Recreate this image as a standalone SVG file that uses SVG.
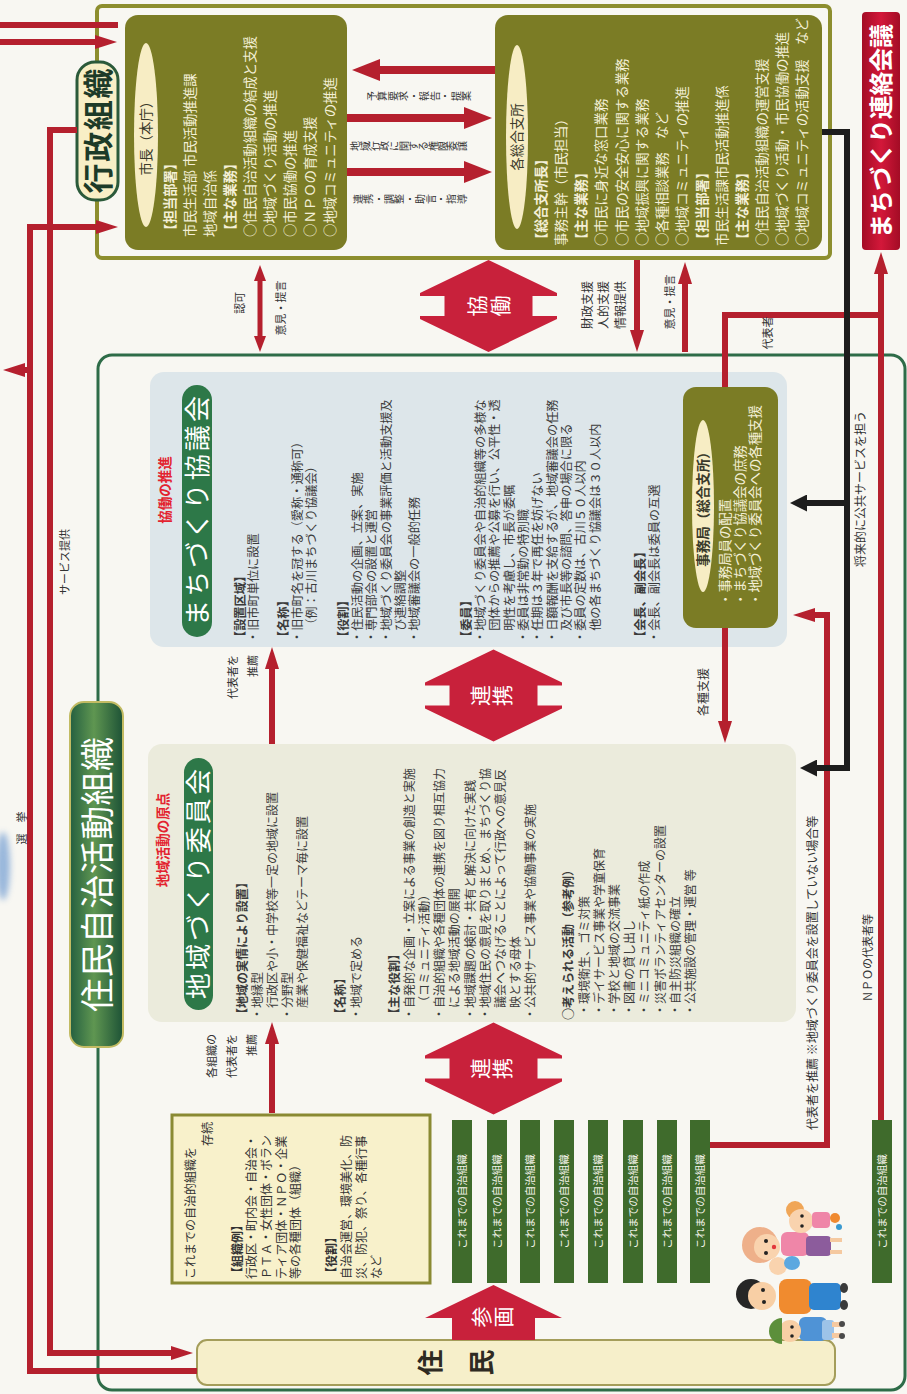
<svg xmlns="http://www.w3.org/2000/svg" width="907" height="1394" viewBox="0 0 907 1394">
<defs>
<style>
text{font-family:"Noto Sans CJK JP","Noto Sans CJK SC",sans-serif}
.wt{fill:#f3efd6;font-size:13.4px}
.p12{fill:#3b3b3b;font-size:12.2px}
.p11{fill:#3b3b3b;font-size:12px}
.b{font-weight:700}
.m{text-anchor:middle}
.e{text-anchor:end}
.on{fill:#3a3a2a;font-size:13.5px}
.hd{fill:#e3232f;font-size:13.5px;font-weight:700;text-anchor:middle}
.lv{fill:#333;font-size:10px;text-anchor:middle}
.s11{fill:#333;font-size:11px}
.s12{fill:#333;font-size:12px}
.big{fill:#fff;font-size:21px;text-anchor:middle}
.pill{fill:#fff;font-size:26px;text-anchor:middle}
.olive{fill:#7b7c25}
.oval{fill:#f7edc4}
.bar{fill:#3f6b2c}
.bt{fill:#f4f4ea;font-size:10.5px;text-anchor:middle}
.r{fill:none;stroke:#b5202e;stroke-width:6}
.rb{fill:none;stroke:#b5202e;stroke-width:8}
.rs{fill:none;stroke:#b5202e;stroke-width:5}
.k{fill:none;stroke:#1d1d1d;stroke-width:6}
.arw{fill:#c8213b}
</style>
<marker id="aR" viewBox="0 0 22 14" refX="0" refY="7" markerWidth="22" markerHeight="14" markerUnits="userSpaceOnUse" orient="auto-start-reverse"><path d="M0,0L22,7L0,14Z" fill="#b5202e"/></marker>
<marker id="aS" viewBox="0 0 16 12" refX="0" refY="6" markerWidth="16" markerHeight="12" markerUnits="userSpaceOnUse" orient="auto-start-reverse"><path d="M0,0L16,6L0,12Z" fill="#b5202e"/></marker>
<marker id="aB" viewBox="0 0 28 22" refX="0" refY="11" markerWidth="28" markerHeight="22" markerUnits="userSpaceOnUse" orient="auto-start-reverse"><path d="M0,0L28,11L0,22Z" fill="#b5202e"/></marker>
<marker id="aK" viewBox="0 0 17 17" refX="0" refY="8.5" markerWidth="17" markerHeight="17" markerUnits="userSpaceOnUse" orient="auto-start-reverse"><path d="M0,0L17,8.5L0,17Z" fill="#1d1d1d"/></marker>
<linearGradient id="gRed" x1="0" y1="0" x2="0" y2="1"><stop offset="0" stop-color="#a30c25"/><stop offset="0.5" stop-color="#d3183a"/><stop offset="1" stop-color="#a30c25"/></linearGradient>
<linearGradient id="gGreen" x1="0" y1="0" x2="0" y2="1"><stop offset="0" stop-color="#245f40"/><stop offset="0.45" stop-color="#5f9651"/><stop offset="1" stop-color="#1d5236"/></linearGradient>
<path id="dbl" d="M-46,0L-13,-68.5L-10,-68.5L-10,-44L10,-44L10,-68.5L13,-68.5L46,0L13,68.5L10,68.5L10,44L-10,44L-10,68.5L-13,68.5Z"/>
<filter id="soft" x="-1" y="-1" width="3" height="3"><feGaussianBlur stdDeviation="3"/></filter>
</defs>

<rect width="907" height="1394" fill="#f8f7f2"/>
<ellipse cx="3" cy="866" rx="7" ry="34" fill="#6f9bd2" opacity="0.7" filter="url(#soft)"/>

<!-- page content laid out landscape, turned a quarter left -->
<g transform="translate(0,1394) rotate(-90)">

<g id="admin-frame">
<rect x="1136" y="97" width="252" height="733" rx="5" fill="none" stroke="#8d8e2e" stroke-width="4"/>
</g>

<g id="mayor">
<rect x="1144" y="125" width="235" height="222" rx="13" class="olive"/>
<ellipse cx="1259" cy="146" rx="92" ry="12" class="oval"/>
<text x="1259" y="151" class="m on">市長（本庁）</text>
<text class="wt b" x="1157" y="175">【担当部署】</text>
<text class="wt" x="1157" y="195">市民生活部 市民活動推進課</text>
<text class="wt" x="1157" y="215">地域自治係</text>
<text class="wt b" x="1157" y="235">【主な業務】</text>
<text class="wt" x="1157" y="255">○住民自治活動組織の結成と支援</text>
<text class="wt" x="1157" y="275">○地域づくり活動の推進</text>
<text class="wt" x="1157" y="295">○市民協働の推進</text>
<text class="wt" x="1157" y="315">○ＮＰＯの育成支援</text>
<text class="wt" x="1157" y="335">○地域コミュニティの推進</text>
</g>

<g id="branch">
<rect x="1144" y="495" width="235" height="327" rx="13" class="olive"/>
<ellipse cx="1257" cy="517" rx="92" ry="11" class="oval"/>
<text x="1257" y="522.3" class="m on">各総合支所</text>
<text class="wt b" x="1148" y="546.1">【総合支所長】</text>
<text class="wt" x="1148" y="566.2">事務主幹（市民担当）</text>
<text class="wt b" x="1148" y="586.3">【主な業務】</text>
<text class="wt" x="1148" y="606.4">○市民に身近な窓口業務</text>
<text class="wt" x="1148" y="626.5">○市民の安全安心に関する業務</text>
<text class="wt" x="1148" y="646.6">○地域振興に関する業務</text>
<text class="wt" x="1148" y="666.7">○各種相談業務　など</text>
<text class="wt" x="1148" y="686.8">○地域コミュニティの推進</text>
<text class="wt b" x="1148" y="706.9">【担当部署】</text>
<text class="wt" x="1148" y="727">市民生活課市民活動推進係</text>
<text class="wt b" x="1148" y="747.1">【主な業務】</text>
<text class="wt" x="1148" y="767.2">○住民自治活動組織の運営支援</text>
<text class="wt" x="1148" y="787.3">○地域づくり活動・市民協働の推進</text>
<text class="wt" x="1148" y="807.4">○地域コミュニティの活動支援</text>
<text class="wt e" x="1376" y="807.4">など</text>
</g>

<g id="liaison">
<rect x="1144" y="862" width="238" height="38" rx="4" fill="url(#gRed)"/>
<text x="1263" y="890" class="m b" fill="#fff" font-size="24" textLength="214">まちづくり連絡会議</text>
</g>

<g id="admin-label">
<rect x="1194" y="77" width="138" height="41" rx="18" fill="#f8efc6" stroke="#2b5a3a" stroke-width="3"/>
<text x="1263" y="109" class="m b" fill="#1d3b28" font-size="30" textLength="125">行政組織</text>
</g>

<g id="community-frame">
<rect x="4" y="98" width="1035" height="807" rx="14" fill="none" stroke="#2e6c48" stroke-width="3"/>
</g>

<g id="community-label">
<rect x="347" y="70" width="345" height="53" rx="14" fill="url(#gGreen)" stroke="#c2bb63" stroke-width="2"/>
<text x="519.5" y="109.5" class="m" fill="#fff" font-size="34" textLength="275">住民自治活動組織</text>
</g>

<g id="council">
<rect x="747" y="150" width="275" height="637" rx="14" fill="#dde6ea"/>
<text x="904" y="169.9" class="hd">協働の推進</text>
<rect x="757" y="182" width="252" height="30" rx="15" fill="#2d7848"/>
<text x="883" y="206.8" class="pill" textLength="230">まちづくり協議会</text>
<text class="p12 b" x="751" y="244.6">【設置区域】</text>
<text class="p12" x="751" y="257.6">・旧市町単位に設置</text>
<text class="p12 b" x="751" y="287.6">【名称】</text>
<text class="p12" x="751" y="301.6">・旧市町名を冠する（愛称・通称可）</text>
<text class="p12" x="763.2" y="315.6">（例：古川まちづくり協議会）</text>
<text class="p12 b" x="751" y="347.6">【役割】</text>
<text class="p12" x="751" y="361.6">・住民活動の企画、立案、実施</text>
<text class="p12" x="751" y="375.6">・専門部会の設置と運営</text>
<text class="p12" x="751" y="390.6">・地域づくり委員会の事業評価と活動支援及</text>
<text class="p12" x="763.2" y="404.6">び連絡調整</text>
<text class="p12" x="751" y="418.6">・地域審議会の一般的任務</text>
<text class="p12 b" x="751" y="470.6">【委員】</text>
<text class="p12" x="751" y="484.6">・地域づくり委員会や自治的組織等の多様な</text>
<text class="p12" x="763.2" y="499.1">団体からの推薦や公募を行い、公平性・透</text>
<text class="p12" x="763.2" y="513.6">明性を考慮し、市長が委嘱</text>
<text class="p12" x="751" y="527.6">・委員は非常勤の特別職</text>
<text class="p12" x="751" y="542.1">・任期は３年で再任を妨げない</text>
<text class="p12" x="751" y="556.6">・日額報酬を支給するが、地域審議会の任務</text>
<text class="p12" x="763.2" y="570.6">及び市長等の諮問、答申の場合に限る</text>
<text class="p12" x="751" y="585.1">・委員の定数は、古川５０人以内</text>
<text class="p12" x="763.2" y="599.6">他の各まちづくり協議会は３０人以内</text>
<text class="p12 b" x="751" y="644.6">【会長、副会長】</text>
<text class="p12" x="751" y="658.6">・会長、副会長は委員の互選</text>
</g>

<g id="secretariat">
<rect x="766" y="683" width="241" height="95" rx="13" class="olive"/>
<ellipse cx="888" cy="703" rx="86" ry="11" class="oval"/>
<text x="888" y="708.3" class="m on b" font-size="14">事務局（総合支所）</text>
<text class="wt" font-size="12.3" x="788" y="729.7">・事務局員の配置</text>
<text class="wt" font-size="12.3" x="788" y="744.7">・まちづくり協議会の庶務</text>
<text class="wt" font-size="12.3" x="788" y="759.7">・地域づくり委員会への各種支援</text>
</g>

<g id="committee">
<rect x="372" y="148" width="278" height="648" rx="14" fill="#ebebdc"/>
<text x="554" y="167.5" class="hd">地域活動の原点</text>
<rect x="384" y="184" width="252" height="29" rx="14.5" fill="#2d7848"/>
<text x="510" y="208.3" class="pill" textLength="230">地域づくり委員会</text>
<text class="p11 b" x="374" y="246.6">【地域の実情により設置】</text>
<text class="p11" x="374" y="261.8">・地縁型</text>
<text class="p11" x="386" y="277">行政区や小・中学校等一定の地域に設置</text>
<text class="p11" x="374" y="292.2">・分野型</text>
<text class="p11" x="386" y="307.4">産業や保健福祉などテーマ毎に設置</text>
<text class="p11 b" x="374" y="345.4">【名称】</text>
<text class="p11" x="374" y="360.6">・地域で定める</text>
<text class="p11 b" x="374" y="398.6">【主な役割】</text>
<text class="p11" x="374" y="413.8">・自発的な企画・立案による事業の創造と実施</text>
<text class="p11" x="386" y="429">（コミュニティ活動）</text>
<text class="p11" x="374" y="444.2">・自治的組織や各種団体の連携を図り相互協力</text>
<text class="p11" x="386" y="459.4">による地域活動の展開</text>
<text class="p11" x="374" y="474.6">・地域課題の検討・共有と解決に向けた実践</text>
<text class="p11" x="374" y="489.8">・地域住民の意見を取りまとめ、まちづくり協</text>
<text class="p11" x="386" y="505">議会へつなげることによって行政への意見反</text>
<text class="p11" x="386" y="520.2">映とする母体</text>
<text class="p11" x="374" y="535.4">・公共的サービス事業や協働事業の実施</text>
<text class="p11 b" x="374" y="573.4">○考えられる活動（参考例）</text>
<text class="p11" x="378" y="588.6">・環境衛生、ゴミ対策</text>
<text class="p11" x="378" y="603.8">・デイサービス事業や学童保育</text>
<text class="p11" x="378" y="619">・学校と地域の交流事業</text>
<text class="p11" x="378" y="634.2">・図書の貸し出し</text>
<text class="p11" x="378" y="649.4">・ミニコミュニティ紙の作成</text>
<text class="p11" x="378" y="664.6">・災害ボランティアセンターの設置</text>
<text class="p11" x="378" y="679.8">・自主防災組織の確立</text>
<text class="p11" x="378" y="695">・公共施設の管理・運営 等</text>
</g>

<g id="existing-groups">
<rect x="111" y="172" width="168" height="258" fill="#f8f1cb" stroke="#8a8a33" stroke-width="3"/>
<text class="s12" x="115" y="194.6">これまでの自治的組織を</text>
<text class="s12 e" x="272" y="211.6">存続</text>
<text class="s12 b" x="115" y="241.6">【組織例】</text>
<text class="s12" x="115" y="255.6">行政区・町内会・自治会・</text>
<text class="s12" x="115" y="270.6">ＰＴＡ・女性団体・ボラン</text>
<text class="s12" x="115" y="285.6">ティア団体・ＮＰＯ・企業</text>
<text class="s12" x="115" y="299.6">等の各種団体（組織）</text>
<text class="s12 b" x="115" y="335.6">【役割】</text>
<text class="s12" x="115" y="350.6">自治会運営、環境美化、防</text>
<text class="s12" x="115" y="365.6">災、防犯、祭り、各種行事</text>
<text class="s12" x="115" y="380.6">など</text>
</g>

<g id="local-groups">
<rect class="bar" x="111" y="452" width="163" height="20"/><text class="bt" x="192.5" y="466">これまでの自治組織</text>
<rect class="bar" x="111" y="487" width="163" height="20"/><text class="bt" x="192.5" y="501">これまでの自治組織</text>
<rect class="bar" x="111" y="520" width="163" height="20"/><text class="bt" x="192.5" y="534">これまでの自治組織</text>
<rect class="bar" x="111" y="554" width="163" height="20"/><text class="bt" x="192.5" y="568">これまでの自治組織</text>
<rect class="bar" x="111" y="588" width="163" height="20"/><text class="bt" x="192.5" y="602">これまでの自治組織</text>
<rect class="bar" x="111" y="623" width="163" height="20"/><text class="bt" x="192.5" y="637">これまでの自治組織</text>
<rect class="bar" x="111" y="657" width="163" height="20"/><text class="bt" x="192.5" y="671">これまでの自治組織</text>
<rect class="bar" x="111" y="690" width="163" height="20"/><text class="bt" x="192.5" y="704">これまでの自治組織</text>
</g>

<g id="npo-group">
<rect class="bar" x="111" y="872" width="163" height="20"/><text class="bt" x="192.5" y="886">これまでの自治組織</text>
</g>

<g id="residents">
<rect x="9" y="197" width="45" height="638" rx="10" fill="#f6efca" stroke="#a49d5a" stroke-width="2"/>
<text x="31.5 31.5" y="439.9 490.9" class="m b" fill="#2e2a22" font-size="26">住民</text>
</g>

<g id="connectors">
<path class="r" d="M1369,0L1369,118"/>
<path class="r" d="M1352,0L1352,95" marker-end="url(#aR)"/>
<path class="r" d="M23,197L23,30L1167,30L1167,96" marker-end="url(#aR)"/>
<path class="r" d="M1024,30L1024,25" marker-end="url(#aR)"/>
<path class="r" d="M1264,77L1264,50L41,50L41,171" marker-end="url(#aR)"/>
<path class="rb" d="M1324,495L1324,380" marker-end="url(#aB)"/>
<path class="rb" d="M1276,347L1276,464" marker-end="url(#aB)"/>
<path class="rb" d="M1222,347L1222,464" marker-end="url(#aB)"/>
<path class="rs" d="M1058,260L1113,260" marker-start="url(#aS)" marker-end="url(#aS)"/>
<path class="r" d="M1134,637L1064,637" marker-end="url(#aR)"/>
<path class="r" d="M1042,685L1110,685" marker-end="url(#aR)"/>
<path class="r" d="M766,725L673,725" marker-end="url(#aR)"/>
<path class="r" d="M650,272L725,272" marker-end="url(#aR)"/>
<path class="r" d="M281,272L350,272" marker-end="url(#aR)"/>
<path class="r" d="M249,710L249,827L779,827L779,815" marker-end="url(#aR)"/>
<path class="r" d="M1007,725L1079,725L1079,881"/>
<path class="r" d="M274,881L1120,881" marker-end="url(#aR)"/>
<path class="k" d="M1262,822L1262,847L626,847L626,817" marker-end="url(#aK)"/>
<path class="k" d="M891,847L891,807" marker-end="url(#aK)"/>
<use href="#dbl" class="arw" transform="translate(1088,488.5)"/>
<use href="#dbl" class="arw" transform="translate(698.5,493.5)"/>
<use href="#dbl" class="arw" transform="translate(325.5,493.5)"/>
<path class="arw" d="M109,493.5L76,425L76,452L54,452L54,535L76,535L76,562Z"/>
<text class="big" x="1088 1088" y="485 508">協働</text>
<text class="big" x="698.5 698.5" y="488 510">連携</text>
<text class="big" x="325.5 325.5" y="488 510">連携</text>
<text class="big" font-size="20" x="77 77" y="488.6 510.6">参画</text>
</g>

<g id="connector-labels">
<text class="lv" x="1298 1298 1298 1298 1298 1298 1298 1298 1298 1298" y="375.8 386.3 396.8 407.3 417.8 428.3 438.8 449.3 459.8 470.3">予算要求・報告・提案</text>
<text class="lv" x="1248 1248 1248 1248 1248 1248 1248 1248 1248 1248 1248 1248" y="358.8 368.6 378.3 388.1 397.8 407.6 417.3 427.1 436.8 446.6 456.3 466.1">地域行政に関する権限委譲</text>
<text class="lv" x="1195 1195 1195 1195 1195 1195 1195 1195 1195 1195 1195" y="361.8 372.2 382.6 393 403.4 413.8 424.2 434.6 445 455.4 465.8">連携・調整・助言・指導</text>
<text class="s11 m" x="1091" y="244.2">認可</text>
<text class="s11 m" x="1086" y="285.2">意見・提言</text>
<text class="s12 m" x="1089" y="591.6">財政支援</text>
<text class="s12 m" x="1089" y="607.6">人的支援</text>
<text class="s12 m" x="1089" y="624.6">情報提供</text>
<text class="s11 m" x="1092" y="674.2">意見・提言</text>
<text class="s11 m" x="1061" y="772.2">代表者</text>
<text class="s12 m" x="905" y="864.6">将来的に公共サービスを担う</text>
<text class="s12 m" x="702" y="707.6">各種支援</text>
<text class="s11 e" x="739" y="237.2">代表者を</text>
<text class="s11 e" x="739" y="257.2">推薦</text>
<text class="s11 e" x="360" y="216.2">各組織の</text>
<text class="s11 e" x="360" y="236.2">代表者を</text>
<text class="s11 e" x="360" y="256.2">推薦</text>
<text class="s12" font-size="12.4" x="264" y="816.7">代表者を推薦 ※地域づくり委員会を設置していない場合等</text>
<text class="s11 m" font-size="10" x="436" y="871.8">ＮＰＯの代表者等</text>
<text class="s11 m" x="832" y="69.2">サービス提供</text>
<text class="s11 m" font-size="10" x="566" y="25.8">選　挙</text>
</g>

</g>

<g id="family">
<rect x="779" y="1279" width="33" height="35" rx="8" fill="#f08b2f"/>
<rect x="809" y="1283" width="32" height="27" rx="5" fill="#2f84cf"/>
<ellipse cx="844" cy="1288" rx="4" ry="5" fill="#3a3a3a"/>
<ellipse cx="844" cy="1305" rx="4" ry="5" fill="#3a3a3a"/>
<circle cx="751" cy="1294" r="15" fill="#262626"/>
<circle cx="762" cy="1296" r="14" fill="#f8cfa5"/>
<circle cx="763" cy="1290" r="2" fill="#222"/>
<circle cx="764" cy="1302" r="2" fill="#222"/>
<rect x="799" y="1317" width="28" height="24" rx="6" fill="#4f93d6"/>
<rect x="822" y="1320" width="12" height="20" rx="3" fill="#9cc3e8"/>
<rect x="832" y="1322" width="9" height="5" fill="#f5c9a0"/>
<rect x="832" y="1333" width="9" height="5" fill="#f5c9a0"/>
<circle cx="842" cy="1324" r="3" fill="#4a4a4a"/>
<circle cx="842" cy="1336" r="3" fill="#4a4a4a"/>
<circle cx="790" cy="1331" r="11" fill="#f8cfa5"/>
<path d="M782,1318a13,13 0 0 0 0,26z" fill="#5c8f3b"/>
<circle cx="792" cy="1327" r="1.8" fill="#222"/>
<circle cx="792" cy="1336" r="1.8" fill="#222"/>
<rect x="781" y="1232" width="28" height="24" rx="6" fill="#ef86a8"/>
<rect x="806" y="1236" width="25" height="20" rx="4" fill="#8c5c9c"/>
<rect x="830" y="1238" width="12" height="4" fill="#f5c9a0"/>
<rect x="830" y="1250" width="12" height="4" fill="#f5c9a0"/>
<circle cx="760" cy="1245" r="18" fill="#eeb08a"/>
<circle cx="767" cy="1247" r="13" fill="#f9d3ae"/>
<circle cx="766" cy="1241" r="2" fill="#222"/>
<circle cx="766" cy="1253" r="2" fill="#222"/>
<circle cx="774" cy="1247" r="2.2" fill="#e2383c"/>
<circle cx="778" cy="1266" r="9" fill="#f9d3ae"/>
<ellipse cx="792" cy="1263" rx="8" ry="7" fill="#5ca8e0"/>
<circle cx="795" cy="1210" r="9" fill="#f0a657"/>
<circle cx="801" cy="1221" r="12" fill="#f9d3ae"/>
<circle cx="802" cy="1216" r="1.8" fill="#222"/>
<circle cx="802" cy="1226" r="1.8" fill="#222"/>
<rect x="812" y="1212" width="18" height="16" rx="4" fill="#ef86a8"/>
<circle cx="835" cy="1218" r="5" fill="#f08a30"/>
<circle cx="839" cy="1227" r="3" fill="#3a9ad0"/>
</g>
</svg>
